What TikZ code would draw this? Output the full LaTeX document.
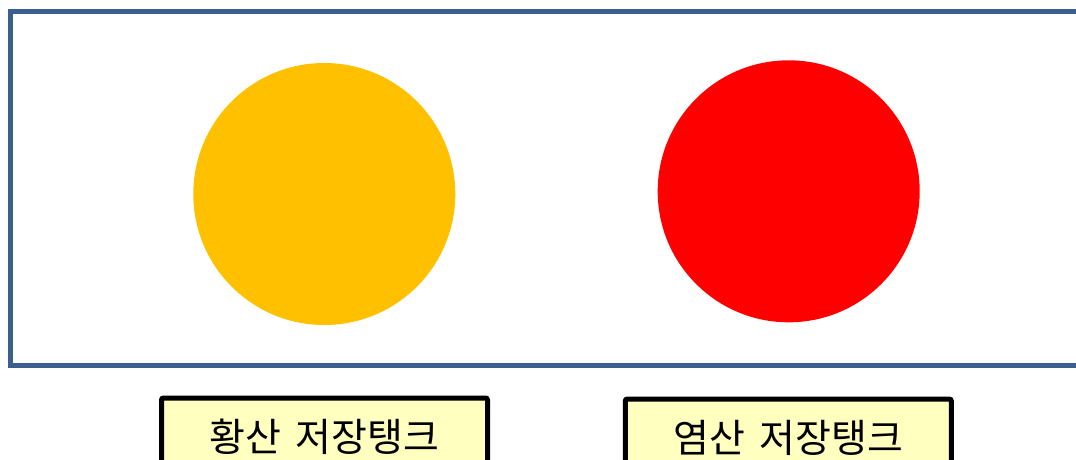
\documentclass[tikz,border=0pt]{standalone}
\usepackage{fontspec}
\newfontfamily\krfont{Noto Sans CJK KR}
\definecolor{framecol}{HTML}{3B5F8E}
\definecolor{sulfur}{HTML}{FFC000}
\definecolor{hcl}{HTML}{FF0000}
\definecolor{labelfill}{HTML}{FFFFC0}
\newcommand{\wsp}{\hspace{0.36em}}
\tikzset{
  tank/.style={circle, inner sep=0pt, minimum size=262pt},
  labelbox/.style={draw=black, line width=5pt, fill=labelfill, rounded corners=2pt,
    minimum width=326pt, minimum height=78pt, inner sep=0pt, anchor=north,
    font=\krfont\fontsize{39}{42}\selectfont},
}
\begin{document}
\begin{tikzpicture}[x=1pt, y=-1pt]
\useasboundingbox (0,0) rectangle (1076,459);
\clip (0,0) rectangle (1076,459);
\draw[framecol, line width=5pt] (10,11.5) rectangle (1100,365.5);
\node[tank, fill=sulfur] (yellow) at (324.3,194) {};
\node[tank, fill=hcl] (red) at (788.7,191.3) {};
\node[labelbox] (lblS) at (324.5,395.5) {황산\wsp 저장탱크};
\node[labelbox] (lblH) at (788.3,396.5) {염산\wsp 저장탱크};
\end{tikzpicture}
\end{document}
